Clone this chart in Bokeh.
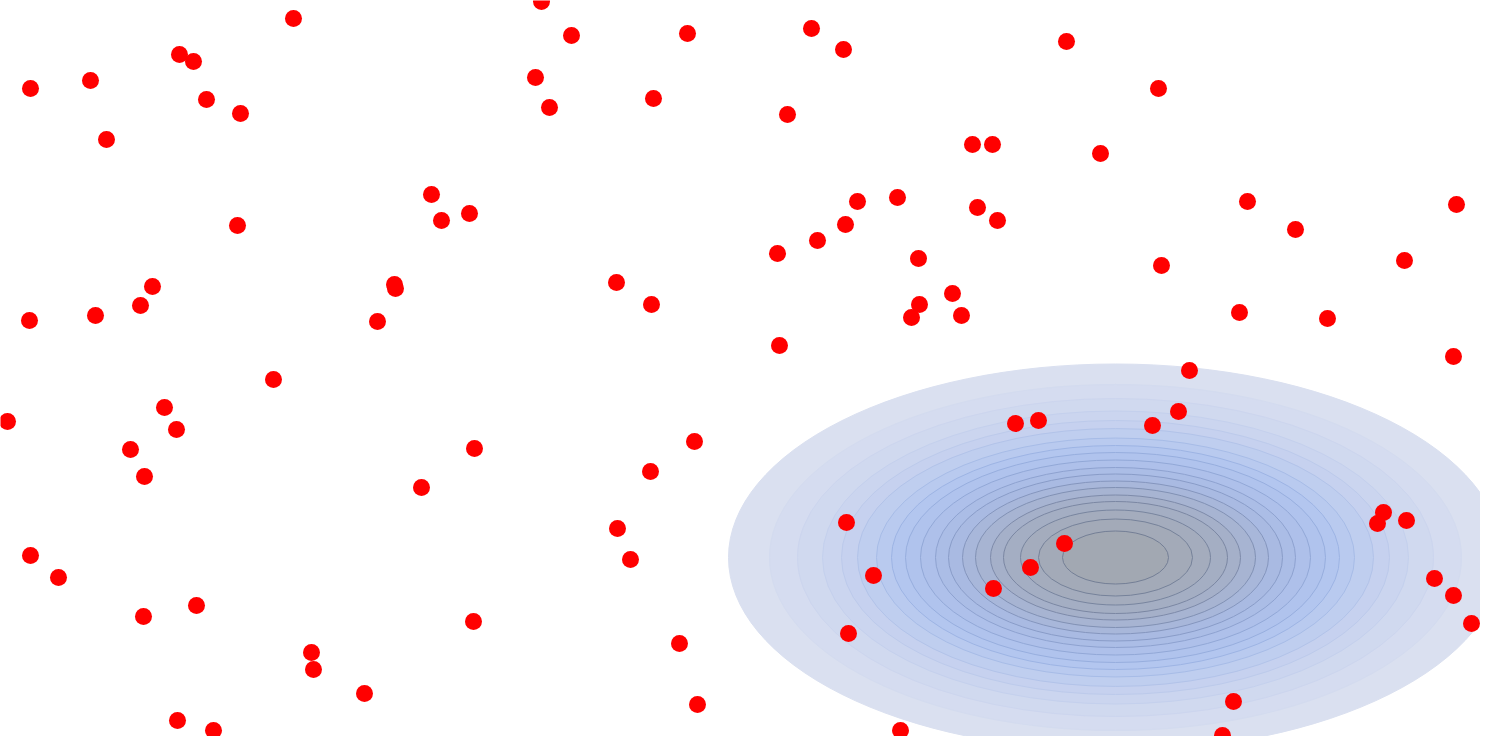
from bokeh.plotting import figure
from bokeh.models import Range1d, ColumnDataSource
from bokeh.embed import file_html
from bokeh.resources import INLINE

# scatter points (x, y in screen-like units, y grows downward)
pts_x = [293, 541, 571, 687, 811, 843, 1066, 30, 90, 179, 193, 206, 240, 106,
         535, 549, 653, 787, 1158, 972, 992, 1100, 431, 441, 469, 237, 857, 897,
         977, 997, 845, 817, 777, 918, 1247, 1295, 1456, 1161, 1404, 152, 140, 95,
         29, 394, 395, 377, 616, 651, 952, 919, 911, 961, 1239, 1327, 779, 1453,
         273, 1189, 164, 176, 7, 130, 144, 474, 421, 694, 650, 1015, 1038, 1152,
         1178, 617, 630, 846, 873, 1064, 1030, 993, 848, 1383, 1377, 1406, 1434,
         1453, 1471, 30, 58, 143, 196, 473, 311, 313, 364, 679, 697, 177, 213, 900,
         1233, 1222]
pts_y = [18, 1, 35, 33, 28, 49, 41, 88, 80, 54, 61, 99, 113, 139,
         77, 107, 98, 114, 88, 144, 144, 153, 194, 220, 213, 225, 201, 197,
         207, 220, 224, 240, 253, 258, 201, 229, 204, 265, 260, 286, 305, 315,
         320, 284, 288, 321, 282, 304, 293, 304, 317, 315, 312, 318, 345, 356,
         379, 370, 407, 429, 421, 449, 476, 448, 487, 441, 471, 423, 420, 425,
         411, 528, 559, 522, 575, 543, 567, 588, 633, 512, 523, 520, 578,
         595, 623, 555, 577, 616, 605, 621, 652, 669, 693, 643, 704, 720, 730, 730,
         701, 735]

# density contour rings (centre and horizontal half-widths, outer to inner)
ring_cx = 1115
ring_cy = 557
ring_rx = [387, 346, 318, 293, 274, 258, 239, 224, 210, 195, 180, 167, 153,
           140, 125, 112, 95, 77, 53]
ring_aspect = 0.5


def blend(anchors, n):
    out = []
    for i in range(n):
        t = i / (n - 1) * (len(anchors) - 1)
        k = min(int(t), len(anchors) - 2)
        f = t - k
        a = anchors[k].lstrip("#")
        b = anchors[k + 1].lstrip("#")
        c = []
        for j in range(3):
            va = int(a[2 * j:2 * j + 2], 16)
            vb = int(b[2 * j:2 * j + 2], 16)
            c.append(round(va + (vb - va) * f))
        out.append("#%02x%02x%02x" % tuple(c))
    return out


n = len(ring_rx)
fills = blend(["#dae0f0", "#c8d3ef", "#b2c5ef", "#a9bbe4", "#a5afc6", "#a2a8b2"], n)
lines = blend(["#dae0f0", "#c0cdec", "#9bb3e4", "#8a9dca", "#7c89a6", "#747f96"], n)

rings = ColumnDataSource(dict(
    x=[ring_cx] * n,
    y=[ring_cy] * n,
    w=[2 * r for r in ring_rx],
    h=[2 * r * ring_aspect for r in ring_rx],
    fill=fills,
    line=lines,
))

p = figure(width=1480, height=736, x_range=Range1d(0, 1480), y_range=Range1d(736, 0),
           x_axis_type=None, y_axis_type=None, toolbar_location=None,
           output_backend="svg", min_border=0)
p.grid.visible = False
p.outline_line_color = None
p.background_fill_color = "white"
p.border_fill_color = "white"

p.ellipse(x="x", y="y", width="w", height="h", fill_color="fill",
          line_color="line", line_width=1, source=rings)

p.scatter(pts_x, pts_y, size=17, fill_color="#ff0000", line_color=None)

open("out.html", "w").write(file_html(p, INLINE))
